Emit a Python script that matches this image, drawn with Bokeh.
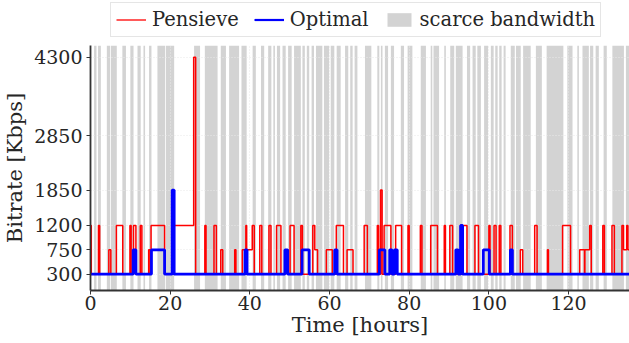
from bokeh.plotting import figure
from bokeh.layouts import column
from bokeh.models import ColumnDataSource, FixedTicker, Legend, LegendItem, Range1d
from bokeh.embed import file_html
from bokeh.resources import INLINE

# ---- data ----
pensieve_hours = [0, 0.2, 2.0, 2.3, 4.6, 5.1, 6.5, 8.1, 9.9, 10.2, 10.8, 11.4, 12.5, 12.9,
                  14.6, 15.0, 15.2, 18.6, 20.85, 25.9, 26.4, 28.7, 29.0, 31.0, 31.6, 32.7, 33.2,
                  36.2, 36.5, 38.1, 39.0, 39.2, 40.6, 41.1, 42.5, 43.0, 44.8, 45.3, 46.7, 47.8,
                  48.8, 49.6, 50.1, 51.1, 52.8, 53.2, 55.8, 56.3, 57.0, 59.2, 60.7, 61.7, 63.5,
                  64.4, 65.9, 68.7, 69.5, 72.0, 72.3, 72.8, 73.2, 73.7, 75.4, 76.6, 78.1, 79.7,
                  80.0, 82.8, 83.2, 85.4, 87.1, 88.8, 89.1, 90.2, 90.9, 92.9, 94.5, 96.5, 97.4,
                  100.0, 100.3, 101.3, 101.8, 102.6, 103.0, 105.3, 105.9, 107.9, 108.5, 111.5,
                  112.1, 114.7, 114.95, 118.5, 120.5, 122.8, 124.0, 124.1, 125.3, 125.7, 128.6,
                  129.0, 130.9, 131.5, 133.4, 133.8, 134.6, 134.9, 136.0]
pensieve_kbps = [1200, 300, 1200, 300, 750, 300, 1200, 300, 1200, 300, 1200, 300, 1200, 300,
                 750, 300, 1200, 300, 1200, 4300, 300, 1200, 300, 1200, 300, 750, 300,
                 750, 300, 750, 1200, 750, 1200, 300, 1200, 300, 1200, 300, 1200, 300,
                 750, 300, 1200, 300, 1200, 300, 1200, 750, 300, 750, 300, 1200, 300,
                 750, 300, 1200, 300, 1200, 300, 1850, 300, 1200, 300, 1200, 300, 1200,
                 300, 1200, 300, 1200, 300, 1200, 300, 1200, 300, 1200, 300, 1200, 300,
                 1200, 300, 1200, 300, 1200, 300, 1200, 300, 750, 300, 1200,
                 300, 750, 300, 1200, 300, 750, 300, 750, 1200, 300, 1200,
                 300, 1200, 300, 1200, 750, 1200, 750, 750]

optimal_hours = [0, 10.7, 11.4, 15.3, 18.6, 20.5, 21.0, 38.8, 39.3, 48.8, 49.5, 53.1, 54.9,
                 61.3, 61.9, 72.5, 73.9, 75.1, 75.7, 76.3, 77.0, 91.7, 92.3, 92.9, 93.4,
                 98.6, 100.1, 105.4, 105.9, 136.0]
optimal_kbps = [300, 750, 300, 750, 300, 1850, 300, 750, 300, 750, 300, 750, 300,
                750, 300, 750, 300, 750, 300, 750, 300, 750, 300, 1200, 300,
                750, 300, 750, 300, 300]

scarce_start = [0.9, 1.9, 4.1, 5.1, 8.0, 10.0, 11.8, 13.3, 14.7, 16.8, 18.9, 26.0, 28.7, 32.7,
                34.8, 37.9, 40.7, 42.8, 44.6, 45.9, 46.8, 48.2, 49.6, 51.1, 53.2, 54.3, 55.5,
                56.6, 58.6, 60.3, 61.8, 63.9, 65.2, 66.3, 68.9, 72.0, 72.9, 73.9, 75.4, 77.9,
                79.6, 82.9, 85.4, 86.1, 88.8, 90.3, 91.7, 94.5, 95.9, 97.1, 98.8, 100.5, 101.6,
                102.6, 103.7, 105.5, 106.8, 108.6, 111.8, 114.5, 119.7, 122.2, 123.5, 125.4,
                126.8, 128.8, 131.0, 134.4]
scarce_end = [1.5, 2.6, 4.9, 6.6, 8.9, 10.8, 12.6, 13.7, 15.3, 18.7, 21.0, 27.5, 31.9, 34.0,
              37.3, 39.2, 41.5, 43.6, 45.4, 46.3, 47.6, 49.0, 50.5, 52.8, 53.8, 54.9, 56.1,
              58.2, 59.9, 61.2, 62.8, 64.7, 65.8, 67.0, 70.5, 72.5, 73.3, 74.7, 76.2, 78.7,
              80.8, 84.2, 85.8, 87.5, 89.2, 91.3, 93.4, 95.3, 96.7, 98.0, 99.8, 101.2, 102.2,
              103.2, 104.2, 106.5, 108.0, 110.5, 113.3, 118.7, 121.0, 122.6, 125.1, 126.2,
              127.6, 129.6, 133.9, 136.0]

bitrate_ticks = [300, 750, 1200, 1850, 2850, 4300]
hour_ticks = [0, 20, 40, 60, 80, 100, 120]
series_names = ["Pensieve", "Optimal", "scarce bandwidth"]

X_MAX = 135.3
Y_MAX = 4515

FONT = "DejaVu Serif"
TXT = "#262626"
RED, BLUE, GRAY = "red", "blue", "#d3d3d3"

band_data = dict(left=scarce_start, right=scarce_end,
                 bottom=[0] * len(scarce_start), top=[Y_MAX] * len(scarce_start))

# ---- main chart ----
p = figure(width=629, height=298, x_range=Range1d(0, X_MAX), y_range=Range1d(0, Y_MAX),
           output_backend="svg", toolbar_location=None,
           min_border_left=90, min_border_right=0, min_border_top=0, min_border_bottom=53)
p.outline_line_color = None
p.background_fill_color = "white"

p.quad(left="left", right="right", bottom="bottom", top="top", source=ColumnDataSource(band_data),
       fill_color=GRAY, line_color=None, level="image")
p.step(x=pensieve_hours, y=pensieve_kbps, mode="after", line_color=RED, line_width=1.5)
p.step(x=optimal_hours, y=optimal_kbps, mode="after", line_color=BLUE, line_width=2.8)

p.xaxis.ticker = FixedTicker(ticks=hour_ticks)
p.yaxis.ticker = FixedTicker(ticks=bitrate_ticks)
p.xgrid.ticker = FixedTicker(ticks=hour_ticks)
p.ygrid.ticker = FixedTicker(ticks=bitrate_ticks)
for g in (p.xgrid[0], p.ygrid[0]):
    g.grid_line_color = "#e8e8e8"
    g.grid_line_dash = "1 2"
    g.grid_line_width = 1

for ax in (p.xaxis[0], p.yaxis[0]):
    ax.axis_line_color = "#333333"
    ax.axis_line_width = 1.8
    ax.major_tick_line_color = "#333333"
    ax.major_tick_out = 4
    ax.major_tick_in = 0
    ax.minor_tick_out = 0
    ax.minor_tick_in = 0
    ax.major_label_text_font = FONT
    ax.major_label_text_font_size = "19px"
    ax.major_label_text_color = TXT
    ax.axis_label_text_font = FONT
    ax.axis_label_text_font_size = "21px"
    ax.axis_label_text_font_style = "normal"
    ax.axis_label_text_color = TXT

p.xaxis.major_label_standoff = 1
p.xaxis.axis_label_standoff = 0
p.yaxis.major_label_standoff = 4
p.yaxis.axis_label_standoff = 4

p.xaxis.axis_label = "Time [hours]"
p.yaxis.axis_label = "Bitrate [Kbps]"

# ---- legend strip above the chart ----
# The same series are drawn here, but the strip's ranges keep them out of view,
# so only the legend (which takes its swatches from these renderers) is seen.
lg = figure(width=629, height=45, x_range=Range1d(0, 1), y_range=Range1d(-2, -1),
            output_backend="svg", toolbar_location=None,
            x_axis_location=None, y_axis_location=None,
            min_border_left=0, min_border_right=0, min_border_top=0, min_border_bottom=0)
lg.outline_line_color = None
lg.xgrid.visible = False
lg.ygrid.visible = False
for fig in (lg, p):
    if "frame_align" in fig.properties():
        fig.frame_align = False

l_red = lg.step(x=pensieve_hours, y=pensieve_kbps, mode="after", line_color=RED, line_width=1.3)
l_blue = lg.step(x=optimal_hours, y=optimal_kbps, mode="after", line_color=BLUE, line_width=2.2)
l_gray = lg.quad(left="left", right="right", bottom="bottom", top="top",
                 source=ColumnDataSource(band_data), fill_color=GRAY, line_color=None)

legend = Legend(items=[LegendItem(label=series_names[0], renderers=[l_red]),
                       LegendItem(label=series_names[1], renderers=[l_blue]),
                       LegendItem(label=series_names[2], renderers=[l_gray])],
                orientation="horizontal", location=(110, 8),
                label_text_font=FONT, label_text_font_size="19.5px", label_text_color=TXT,
                border_line_color="#cccccc", border_line_width=1,
                padding=5, spacing=15, label_standoff=6, glyph_width=30, glyph_height=17,
                label_height=20, margin=0)
lg.add_layout(legend, "center")

layout = column(lg, p, spacing=0)
open("out.html", "w").write(file_html(layout, INLINE))
